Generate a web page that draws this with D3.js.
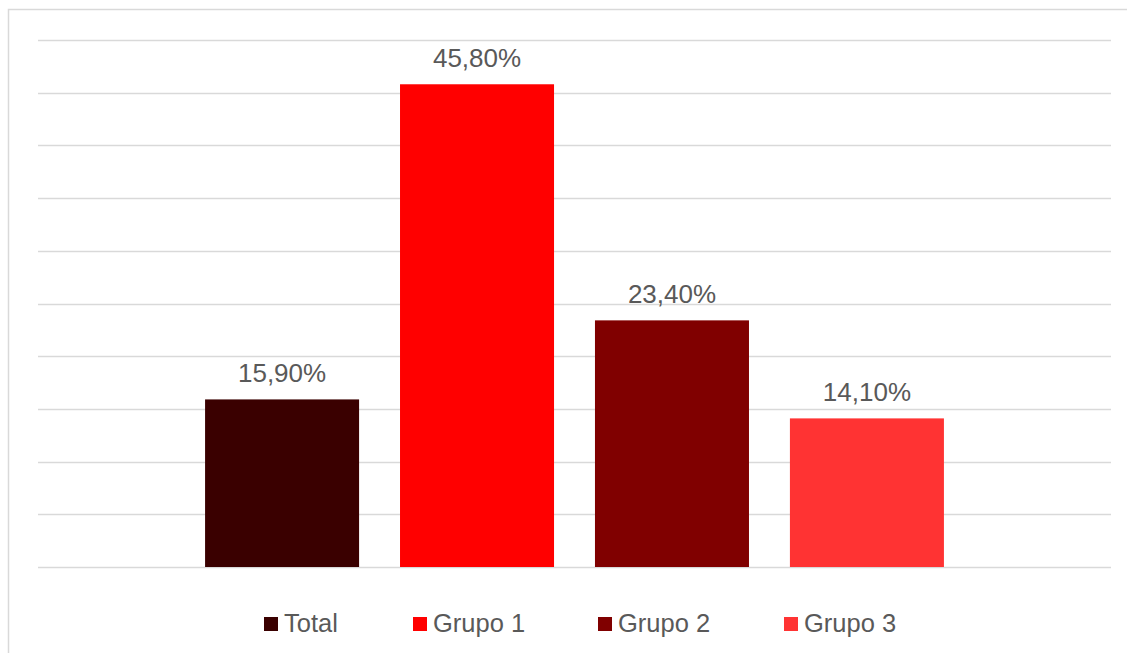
<!DOCTYPE html>
<meta charset="utf-8">
<style>
body { margin: 0; padding: 0; background: #fff; }
svg { display: block; font-family: "Liberation Sans", Arial, sans-serif; }
</style>
<body>
<svg id="chart" width="1127" height="653"></svg>
<script src="https://cdn.jsdelivr.net/npm/d3@7"></script>
<script>
// data
var series = ["Total", "Grupo 1", "Grupo 2", "Grupo 3"];
var values = [15.9, 45.8, 23.4, 14.1];
var colors = ["#3a0000", "#ff0000", "#800000", "#ff3333"];
var yTicks = [0, 5, 10, 15, 20, 25, 30, 35, 40, 45, 50];

var svg = d3.select("#chart");
var plotLeft = 38, plotRight = 1111, plotTop = 40, plotBottom = 567;

// outer frame (only top/left visible in the crop)
svg.append("rect")
  .attr("x", 8.5).attr("y", 9.5)
  .attr("width", 1140).attr("height", 680)
  .attr("fill", "none").attr("stroke", "#d9d9d9").attr("stroke-width", 1.5);

var y = d3.scaleLinear().domain([0, 50]).range([plotBottom, plotTop]);
var x = d3.scaleBand().domain(series).range([plotLeft, plotRight])
  .paddingInner(0.21).paddingOuter(0.857);

svg.append("g").selectAll("line")
  .data(yTicks)
  .join("line")
  .attr("x1", plotLeft).attr("x2", plotRight)
  .attr("y1", function(d) { return Math.round(y(d)) + 0.5; })
  .attr("y2", function(d) { return Math.round(y(d)) + 0.5; })
  .attr("stroke", "#d9d9d9").attr("stroke-width", 1.5);

svg.append("g").selectAll("rect")
  .data(values)
  .join("rect")
  .attr("x", function(d, i) { return x(series[i]); })
  .attr("width", x.bandwidth())
  .attr("y", function(d) { return y(d); })
  .attr("height", function(d) { return plotBottom - y(d); })
  .attr("fill", function(d, i) { return colors[i]; });

svg.append("g").selectAll("text")
  .data(values)
  .join("text")
  .attr("x", function(d, i) { return x(series[i]) + x.bandwidth() / 2; })
  .attr("y", function(d) { return y(d) - 17; })
  .attr("text-anchor", "middle")
  .attr("font-size", 26)
  .attr("fill", "#595959")
  .text(function(d) { return d.toFixed(2).replace(".", ",") + "%"; });

// legend
var legX = [264, 413, 598, 784];
var leg = svg.append("g").selectAll("g")
  .data(series)
  .join("g")
  .attr("transform", function(d, i) { return "translate(" + legX[i] + ",617)"; });
leg.append("rect")
  .attr("width", 14).attr("height", 14)
  .attr("fill", function(d, i) { return colors[i]; });
leg.append("text")
  .attr("x", 20).attr("y", 15)
  .attr("font-size", 25.5)
  .attr("fill", "#595959")
  .text(function(d) { return d; });
</script>
</body>
